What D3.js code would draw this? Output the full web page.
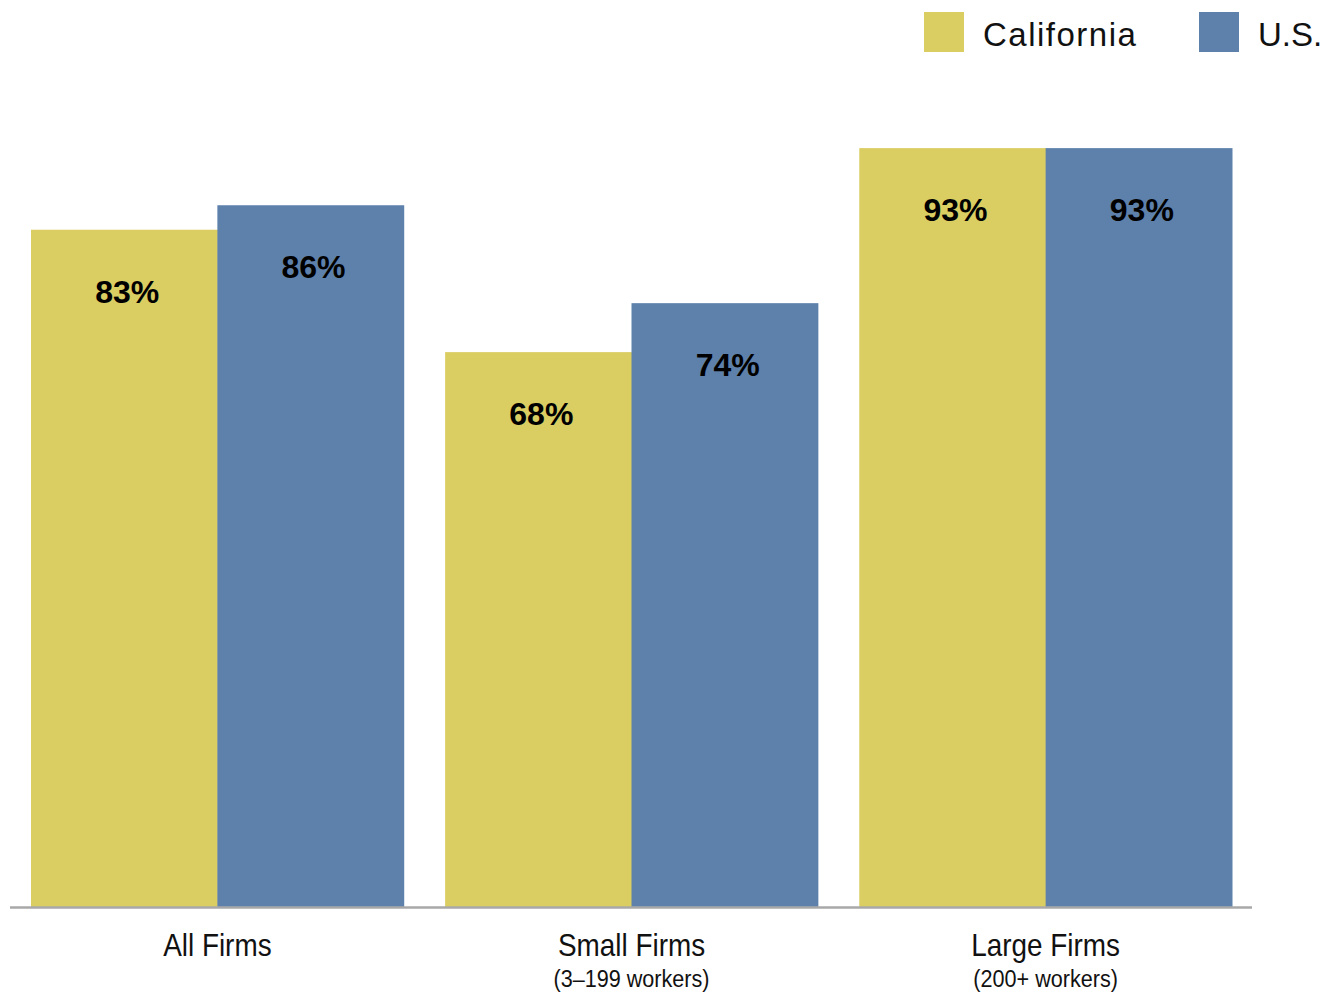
<!DOCTYPE html>
<html>
<head>
<meta charset="utf-8">
<script src="https://cdn.jsdelivr.net/npm/d3@7"></script>
<style>
  html, body { margin: 0; padding: 0; background: #fff; }
  svg { display: block; }
</style>
</head>
<body>
<svg id="chart" width="1327" height="992"></svg>
<script>
const categories = ["All Firms", "Small Firms", "Large Firms"];
const subtitles = ["", "(3\u2013199 workers)", "(200+ workers)"];
const seriesNames = ["California", "U.S."];
const californiaValues = [83, 68, 93];
const usValues = [86, 74, 93];

const colors = { "California": "#DACD62", "U.S.": "#5E81AC" };

const svg = d3.select("#chart");
const baseline = 907;

const x0 = d3.scaleBand().domain(categories).range([31, 1232]).paddingInner(0.1).paddingOuter(0);
const x1 = d3.scaleBand().domain(seriesNames).range([0, x0.bandwidth()]).padding(0);
const y = d3.scaleLinear().domain([0, 100]).range([baseline, 91]);

const data = categories.map((c, i) => ({
  category: c,
  values: [
    { series: "California", value: californiaValues[i] },
    { series: "U.S.", value: usValues[i] }
  ]
}));

const groups = svg.selectAll("g.group").data(data).enter().append("g")
  .attr("class", "group")
  .attr("transform", d => `translate(${x0(d.category)},0)`);

groups.selectAll("rect").data(d => d.values).enter().append("rect")
  .attr("x", d => x1(d.series))
  .attr("y", d => y(d.value))
  .attr("width", x1.bandwidth() + 0.5)
  .attr("height", d => baseline - y(d.value))
  .attr("fill", d => colors[d.series]);

groups.selectAll("text.val").data(d => d.values).enter().append("text")
  .attr("class", "val")
  .attr("x", d => x1(d.series) + x1.bandwidth() / 2 + 3)
  .attr("y", d => y(d.value) + 73)
  .attr("text-anchor", "middle")
  .attr("font-family", "'Liberation Sans', Arial, Helvetica, sans-serif")
  .attr("font-weight", "bold")
  .attr("font-size", 32)
  .attr("fill", "#000")
  .text(d => d.value + "%");

// baseline axis
svg.append("line")
  .attr("x1", x0.range()[0] - 21)
  .attr("x2", x0.range()[1] + 20)
  .attr("y1", baseline + 0.5)
  .attr("y2", baseline + 0.5)
  .attr("stroke", "#a8a8a8")
  .attr("stroke-width", 2.5);

// category labels (condensed)
categories.forEach((c, i) => {
  const cx = x0(c) + x0.bandwidth() / 2;
  svg.append("text")
    .attr("transform", `translate(${cx},956) scale(0.9,1)`)
    .attr("text-anchor", "middle")
    .attr("font-family", "'Liberation Sans', Arial, sans-serif")
    .attr("font-size", 31)
    .attr("fill", "#111")
    .text(c);
  if (subtitles[i]) {
    svg.append("text")
      .attr("transform", `translate(${cx},987) scale(0.9,1)`)
      .attr("text-anchor", "middle")
      .attr("font-family", "'Liberation Sans', Arial, sans-serif")
      .attr("font-size", 24)
      .attr("fill", "#111")
      .text(subtitles[i]);
  }
});

// legend
const legendX = [924, 1199];
const legendSpacing = [1.5, 0];
seriesNames.forEach((s, i) => {
  svg.append("rect")
    .attr("x", legendX[i]).attr("y", 12)
    .attr("width", 40).attr("height", 40)
    .attr("fill", colors[s]);
  svg.append("text")
    .attr("x", legendX[i] + 59).attr("y", 46)
    .attr("font-family", "'Liberation Sans', Arial, sans-serif")
    .attr("font-size", 33)
    .attr("letter-spacing", legendSpacing[i])
    .attr("fill", "#111")
    .text(s);
});
</script>
</body>
</html>
